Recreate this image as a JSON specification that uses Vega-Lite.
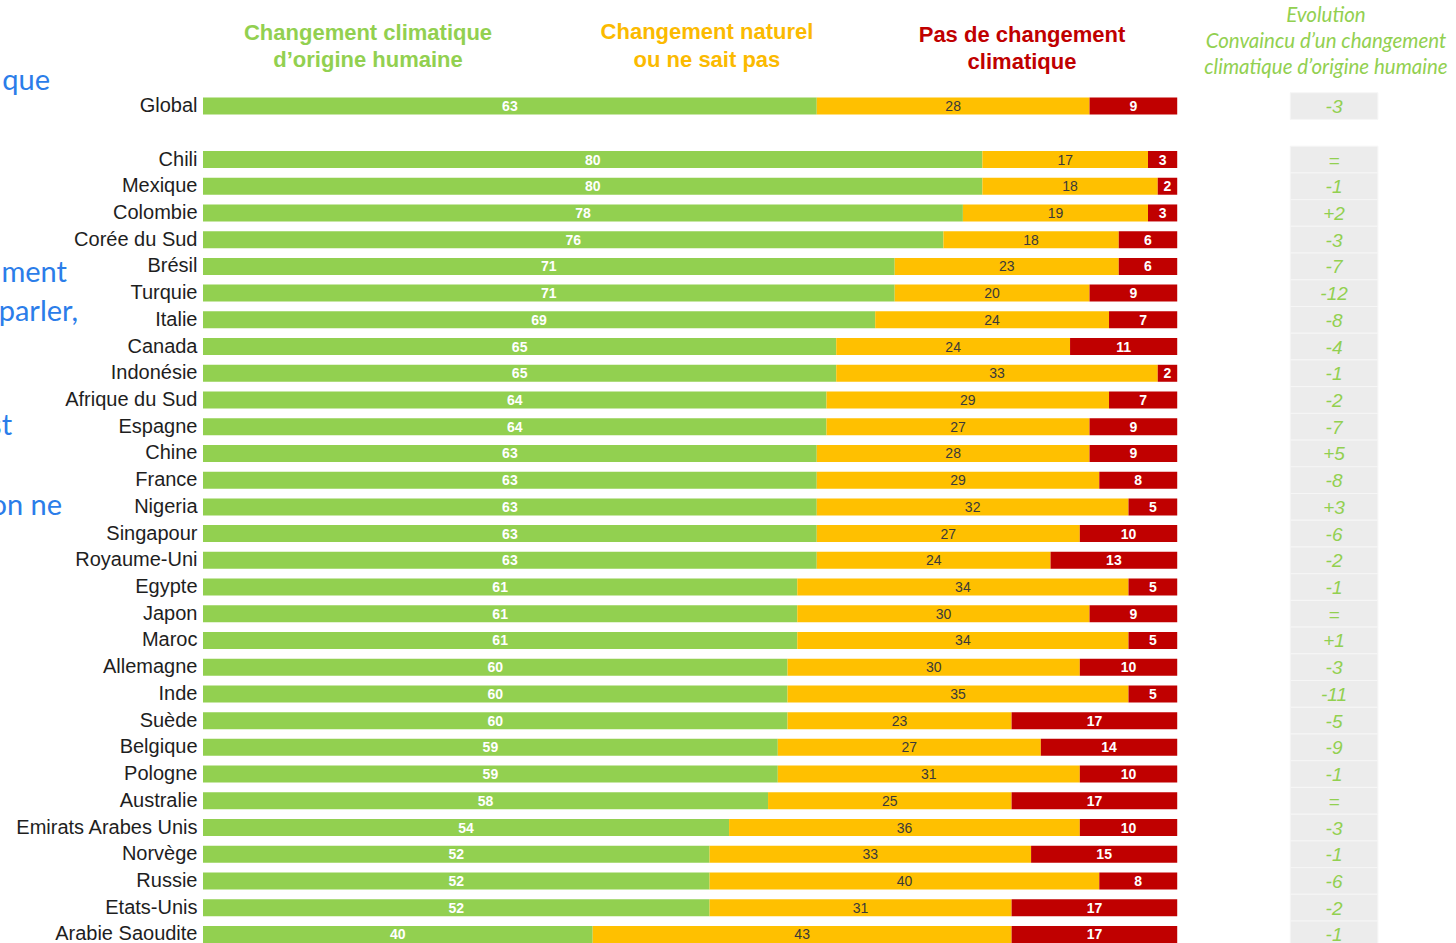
{
  "$schema": "https://vega.github.io/schema/vega-lite/v6.json",
  "autosize": {"type": "none"},
  "padding": {"left": 203, "top": 66, "right": 6, "bottom": 0},
  "width": 1247,
  "height": 877,
  "background": "white",
  "config": {"view": {"stroke": null}},
  "datasets": {
    "vals": [
      {"pays": "Global", "cat": "Humaine", "val": 63}, {"pays": "Global", "cat": "Naturel", "val": 28}, {"pays": "Global", "cat": "Pas de changement", "val": 9},
      {"pays": "Chili", "cat": "Humaine", "val": 80}, {"pays": "Chili", "cat": "Naturel", "val": 17}, {"pays": "Chili", "cat": "Pas de changement", "val": 3},
      {"pays": "Mexique", "cat": "Humaine", "val": 80}, {"pays": "Mexique", "cat": "Naturel", "val": 18}, {"pays": "Mexique", "cat": "Pas de changement", "val": 2},
      {"pays": "Colombie", "cat": "Humaine", "val": 78}, {"pays": "Colombie", "cat": "Naturel", "val": 19}, {"pays": "Colombie", "cat": "Pas de changement", "val": 3},
      {"pays": "Corée du Sud", "cat": "Humaine", "val": 76}, {"pays": "Corée du Sud", "cat": "Naturel", "val": 18}, {"pays": "Corée du Sud", "cat": "Pas de changement", "val": 6},
      {"pays": "Brésil", "cat": "Humaine", "val": 71}, {"pays": "Brésil", "cat": "Naturel", "val": 23}, {"pays": "Brésil", "cat": "Pas de changement", "val": 6},
      {"pays": "Turquie", "cat": "Humaine", "val": 71}, {"pays": "Turquie", "cat": "Naturel", "val": 20}, {"pays": "Turquie", "cat": "Pas de changement", "val": 9},
      {"pays": "Italie", "cat": "Humaine", "val": 69}, {"pays": "Italie", "cat": "Naturel", "val": 24}, {"pays": "Italie", "cat": "Pas de changement", "val": 7},
      {"pays": "Canada", "cat": "Humaine", "val": 65}, {"pays": "Canada", "cat": "Naturel", "val": 24}, {"pays": "Canada", "cat": "Pas de changement", "val": 11},
      {"pays": "Indonésie", "cat": "Humaine", "val": 65}, {"pays": "Indonésie", "cat": "Naturel", "val": 33}, {"pays": "Indonésie", "cat": "Pas de changement", "val": 2},
      {"pays": "Afrique du Sud", "cat": "Humaine", "val": 64}, {"pays": "Afrique du Sud", "cat": "Naturel", "val": 29}, {"pays": "Afrique du Sud", "cat": "Pas de changement", "val": 7},
      {"pays": "Espagne", "cat": "Humaine", "val": 64}, {"pays": "Espagne", "cat": "Naturel", "val": 27}, {"pays": "Espagne", "cat": "Pas de changement", "val": 9},
      {"pays": "Chine", "cat": "Humaine", "val": 63}, {"pays": "Chine", "cat": "Naturel", "val": 28}, {"pays": "Chine", "cat": "Pas de changement", "val": 9},
      {"pays": "France", "cat": "Humaine", "val": 63}, {"pays": "France", "cat": "Naturel", "val": 29}, {"pays": "France", "cat": "Pas de changement", "val": 8},
      {"pays": "Nigeria", "cat": "Humaine", "val": 63}, {"pays": "Nigeria", "cat": "Naturel", "val": 32}, {"pays": "Nigeria", "cat": "Pas de changement", "val": 5},
      {"pays": "Singapour", "cat": "Humaine", "val": 63}, {"pays": "Singapour", "cat": "Naturel", "val": 27}, {"pays": "Singapour", "cat": "Pas de changement", "val": 10},
      {"pays": "Royaume-Uni", "cat": "Humaine", "val": 63}, {"pays": "Royaume-Uni", "cat": "Naturel", "val": 24}, {"pays": "Royaume-Uni", "cat": "Pas de changement", "val": 13},
      {"pays": "Egypte", "cat": "Humaine", "val": 61}, {"pays": "Egypte", "cat": "Naturel", "val": 34}, {"pays": "Egypte", "cat": "Pas de changement", "val": 5},
      {"pays": "Japon", "cat": "Humaine", "val": 61}, {"pays": "Japon", "cat": "Naturel", "val": 30}, {"pays": "Japon", "cat": "Pas de changement", "val": 9},
      {"pays": "Maroc", "cat": "Humaine", "val": 61}, {"pays": "Maroc", "cat": "Naturel", "val": 34}, {"pays": "Maroc", "cat": "Pas de changement", "val": 5},
      {"pays": "Allemagne", "cat": "Humaine", "val": 60}, {"pays": "Allemagne", "cat": "Naturel", "val": 30}, {"pays": "Allemagne", "cat": "Pas de changement", "val": 10},
      {"pays": "Inde", "cat": "Humaine", "val": 60}, {"pays": "Inde", "cat": "Naturel", "val": 35}, {"pays": "Inde", "cat": "Pas de changement", "val": 5},
      {"pays": "Suède", "cat": "Humaine", "val": 60}, {"pays": "Suède", "cat": "Naturel", "val": 23}, {"pays": "Suède", "cat": "Pas de changement", "val": 17},
      {"pays": "Belgique", "cat": "Humaine", "val": 59}, {"pays": "Belgique", "cat": "Naturel", "val": 27}, {"pays": "Belgique", "cat": "Pas de changement", "val": 14},
      {"pays": "Pologne", "cat": "Humaine", "val": 59}, {"pays": "Pologne", "cat": "Naturel", "val": 31}, {"pays": "Pologne", "cat": "Pas de changement", "val": 10},
      {"pays": "Australie", "cat": "Humaine", "val": 58}, {"pays": "Australie", "cat": "Naturel", "val": 25}, {"pays": "Australie", "cat": "Pas de changement", "val": 17},
      {"pays": "Emirats Arabes Unis", "cat": "Humaine", "val": 54}, {"pays": "Emirats Arabes Unis", "cat": "Naturel", "val": 36}, {"pays": "Emirats Arabes Unis", "cat": "Pas de changement", "val": 10},
      {"pays": "Norvège", "cat": "Humaine", "val": 52}, {"pays": "Norvège", "cat": "Naturel", "val": 33}, {"pays": "Norvège", "cat": "Pas de changement", "val": 15},
      {"pays": "Russie", "cat": "Humaine", "val": 52}, {"pays": "Russie", "cat": "Naturel", "val": 40}, {"pays": "Russie", "cat": "Pas de changement", "val": 8},
      {"pays": "Etats-Unis", "cat": "Humaine", "val": 52}, {"pays": "Etats-Unis", "cat": "Naturel", "val": 31}, {"pays": "Etats-Unis", "cat": "Pas de changement", "val": 17},
      {"pays": "Arabie Saoudite", "cat": "Humaine", "val": 40}, {"pays": "Arabie Saoudite", "cat": "Naturel", "val": 43}, {"pays": "Arabie Saoudite", "cat": "Pas de changement", "val": 17}
    ],
    "evo": [
      {"pays": "Global", "evo": "-3"}, {"pays": "Chili", "evo": "="}, {"pays": "Mexique", "evo": "-1"}, {"pays": "Colombie", "evo": "+2"},
      {"pays": "Corée du Sud", "evo": "-3"}, {"pays": "Brésil", "evo": "-7"}, {"pays": "Turquie", "evo": "-12"}, {"pays": "Italie", "evo": "-8"},
      {"pays": "Canada", "evo": "-4"}, {"pays": "Indonésie", "evo": "-1"}, {"pays": "Afrique du Sud", "evo": "-2"}, {"pays": "Espagne", "evo": "-7"},
      {"pays": "Chine", "evo": "+5"}, {"pays": "France", "evo": "-8"}, {"pays": "Nigeria", "evo": "+3"}, {"pays": "Singapour", "evo": "-6"},
      {"pays": "Royaume-Uni", "evo": "-2"}, {"pays": "Egypte", "evo": "-1"}, {"pays": "Japon", "evo": "="}, {"pays": "Maroc", "evo": "+1"},
      {"pays": "Allemagne", "evo": "-3"}, {"pays": "Inde", "evo": "-11"}, {"pays": "Suède", "evo": "-5"}, {"pays": "Belgique", "evo": "-9"},
      {"pays": "Pologne", "evo": "-1"}, {"pays": "Australie", "evo": "="}, {"pays": "Emirats Arabes Unis", "evo": "-3"}, {"pays": "Norvège", "evo": "-1"},
      {"pays": "Russie", "evo": "-6"}, {"pays": "Etats-Unis", "evo": "-2"}, {"pays": "Arabie Saoudite", "evo": "-1"}
    ]
  },
  "encoding": {
    "y": {
      "field": "pays",
      "type": "nominal",
      "scale": {
        "domain": ["_h", "Global", "_gap", "Chili", "Mexique", "Colombie", "Corée du Sud", "Brésil", "Turquie", "Italie", "Canada", "Indonésie", "Afrique du Sud", "Espagne", "Chine", "France", "Nigeria", "Singapour", "Royaume-Uni", "Egypte", "Japon", "Maroc", "Allemagne", "Inde", "Suède", "Belgique", "Pologne", "Australie", "Emirats Arabes Unis", "Norvège", "Russie", "Etats-Unis", "Arabie Saoudite"],
        "range": [0, 881.76],
        "paddingInner": 0,
        "paddingOuter": 0
      },
      "axis": {
        "title": null,
        "ticks": false,
        "domain": false,
        "grid": false,
        "labelPadding": 6,
        "labelFont": "Liberation Sans",
        "labelFontSize": 20,
        "labelColor": "#1e1e1e",
        "labelLimit": 300,
        "labelExpr": "indexof(datum.value, '_') === 0 ? '' : datum.value"
      }
    }
  },
  "layer": [
    {
      "data": {"name": "evo"},
      "mark": {"type": "bar", "color": "#ECECEC", "stroke": "#F6F6F6", "strokeWidth": 1},
      "encoding": {
        "x": {"datum": 111.6, "type": "quantitative", "scale": {"domain": [0, 128], "nice": false, "zero": true}, "axis": null},
        "x2": {"datum": 120.6}
      }
    },
    {
      "data": {"name": "evo"},
      "mark": {"type": "text", "font": "Liberation Sans", "fontStyle": "italic", "fontSize": 19, "color": "#92D050", "baseline": "middle", "dy": 1},
      "encoding": {
        "x": {"datum": 116.1, "type": "quantitative", "axis": null},
        "text": {"field": "evo"}
      }
    },
    {
      "data": {"name": "vals"},
      "mark": {"type": "bar", "height": 17},
      "encoding": {
        "x": {"field": "val", "type": "quantitative", "stack": "zero", "scale": {"domain": [0, 128], "nice": false}, "axis": null},
        "color": {"field": "cat", "type": "nominal", "scale": {"domain": ["Humaine", "Naturel", "Pas de changement"], "range": ["#92D050", "#FFC000", "#C00000"]}, "legend": null},
        "order": {"field": "cat", "type": "nominal", "sort": "ascending"}
      }
    },
    {
      "data": {"name": "vals"},
      "mark": {"type": "text", "font": "Liberation Sans Narrow, Liberation Sans, sans-serif", "fontWeight": "bold", "fontSize": 14, "color": "white", "baseline": "middle", "dy": 1},
      "encoding": {
        "x": {"field": "val", "type": "quantitative", "stack": "zero", "bandPosition": 0.5, "axis": null},
        "detail": {"field": "cat"},
        "order": {"field": "cat", "type": "nominal", "sort": "ascending"},
        "text": {"field": "val", "type": "quantitative"},
        "opacity": {"condition": {"test": "datum.cat === 'Naturel'", "value": 0}, "value": 1}
      }
    },
    {
      "data": {"name": "vals"},
      "mark": {"type": "text", "font": "Liberation Sans Narrow, Liberation Sans, sans-serif", "fontSize": 14, "color": "#3a3a3a", "baseline": "middle", "dy": 1},
      "encoding": {
        "x": {"field": "val", "type": "quantitative", "stack": "zero", "bandPosition": 0.5, "axis": null},
        "detail": {"field": "cat"},
        "order": {"field": "cat", "type": "nominal", "sort": "ascending"},
        "text": {"field": "val", "type": "quantitative"},
        "opacity": {"condition": {"test": "datum.cat === 'Naturel'", "value": 1}, "value": 0}
      }
    },
    {
      "data": {"values": [{}]},
      "mark": {"type": "text", "font": "Liberation Sans", "fontWeight": "bold", "fontSize": 22, "lineHeight": 27, "color": "#92D050", "baseline": "middle", "align": "center", "dy": -46.3},
      "encoding": {
        "x": {"datum": 16.94, "type": "quantitative", "axis": null},
        "y": {"datum": "_h"},
        "text": {"value": ["Changement climatique", "d’origine humaine"]}
      }
    },
    {
      "data": {"values": [{}]},
      "mark": {"type": "text", "font": "Liberation Sans", "fontWeight": "bold", "fontSize": 22, "lineHeight": 28, "color": "#FBBA00", "baseline": "middle", "align": "center", "dy": -47.3},
      "encoding": {
        "x": {"datum": 51.73, "type": "quantitative", "axis": null},
        "y": {"datum": "_h"},
        "text": {"value": ["Changement naturel", "ou ne sait pas"]}
      }
    },
    {
      "data": {"values": [{}]},
      "mark": {"type": "text", "font": "Liberation Sans", "fontWeight": "bold", "fontSize": 22, "lineHeight": 27, "color": "#C00000", "baseline": "middle", "align": "center", "dy": -44.3},
      "encoding": {
        "x": {"datum": 84.07, "type": "quantitative", "axis": null},
        "y": {"datum": "_h"},
        "text": {"value": ["Pas de changement", "climatique"]}
      }
    },
    {
      "data": {"values": [{}]},
      "mark": {"type": "text", "font": "Lato", "fontStyle": "italic", "fontSize": 20.5, "lineHeight": 26, "color": "#92D050", "baseline": "middle", "align": "center", "dy": -63.3},
      "encoding": {
        "x": {"datum": 115.27, "type": "quantitative", "axis": null},
        "y": {"datum": "_h"},
        "text": {"value": ["Evolution", "Convaincu d’un changement", "climatique d’origine humaine"]}
      }
    },
    {
      "data": {"values": [{}]},
      "mark": {"type": "text", "font": "Lato", "fontSize": 29, "color": "#2B7DE9", "baseline": "alphabetic", "align": "right", "dy": 10.7},
      "encoding": {
        "x": {"datum": -15.7, "type": "quantitative", "axis": null},
        "y": {"datum": "_h"},
        "text": {"value": "que"}
      }
    },
    {
      "data": {"values": [{}]},
      "mark": {"type": "text", "font": "Lato", "fontSize": 29, "color": "#2B7DE9", "baseline": "alphabetic", "align": "right", "dy": 15.6},
      "encoding": {
        "x": {"datum": -13.96, "type": "quantitative", "axis": null},
        "y": {"datum": "Brésil"},
        "text": {"value": "ment"}
      }
    },
    {
      "data": {"values": [{}]},
      "mark": {"type": "text", "font": "Lato", "fontSize": 29, "color": "#2B7DE9", "baseline": "alphabetic", "align": "right", "dy": 1.2},
      "encoding": {
        "x": {"datum": -12.83, "type": "quantitative", "axis": null},
        "y": {"datum": "Italie"},
        "text": {"value": "parler,"}
      }
    },
    {
      "data": {"values": [{}]},
      "mark": {"type": "text", "font": "Lato", "fontSize": 29, "color": "#2B7DE9", "baseline": "alphabetic", "align": "right", "dy": 8.3},
      "encoding": {
        "x": {"datum": -19.6, "type": "quantitative", "axis": null},
        "y": {"datum": "Espagne"},
        "text": {"value": "st"}
      }
    },
    {
      "data": {"values": [{}]},
      "mark": {"type": "text", "font": "Lato", "fontSize": 29, "color": "#2B7DE9", "baseline": "alphabetic", "align": "right", "dy": 8.1},
      "encoding": {
        "x": {"datum": -14.47, "type": "quantitative", "axis": null},
        "y": {"datum": "Nigeria"},
        "text": {"value": "on ne"}
      }
    }
  ]
}
